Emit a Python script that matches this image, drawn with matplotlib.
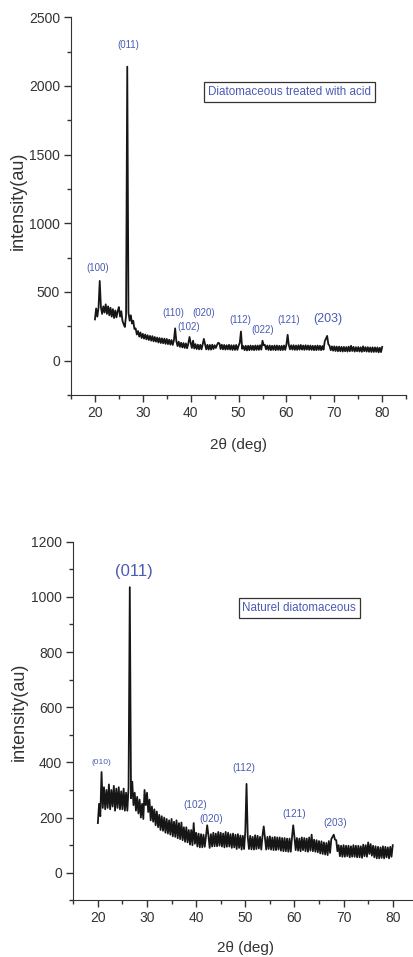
import numpy as np
import matplotlib
matplotlib.use("Agg")
import matplotlib.pyplot as plt
from matplotlib.ticker import MultipleLocator

# 2theta grid, 0.25 deg step from 20 to 80
two_theta = np.arange(20, 80.001, 0.25)

# acid treated diatomaceous (top)
acid = [
    300, 380, 320, 385,  580, 390, 340, 395,  350, 410, 340, 395,  330, 385, 320, 375,
    310, 365, 315, 360,  390, 320, 360, 290,  265, 245, 330, 2140, 350, 290, 330, 270,
    290, 230, 235, 190,  215, 175, 205, 165,  195, 160, 190, 155,  185, 150, 180, 145,
    178, 140, 172, 138,  168, 132, 165, 128,  162, 126, 160, 122,  158, 120, 152, 116,
    150, 114, 148, 235,  142, 106, 138, 100,  130, 96, 128, 92,    125, 90, 122, 172,
    130, 92, 145, 88,    120, 84, 116, 82,    115, 82, 118, 158,   118, 82, 115, 80,
    114, 80, 116, 84,    112, 92, 114, 130,   125, 84, 116, 82,    114, 80, 112, 82,
    115, 80, 112, 78,    112, 78, 114, 78,    108, 130, 212, 86,   106, 76, 108, 74,
    108, 76, 110, 78,    108, 76, 110, 78,    110, 78, 112, 80,    145, 112, 114, 82,
    110, 78, 110, 76,    108, 78, 110, 76,    110, 78, 108, 76,    108, 77, 110, 78,
    118, 188, 112, 82,   112, 80, 112, 78,    110, 78, 112, 80,    114, 80, 110, 78,
    112, 80, 110, 78,    110, 78, 108, 76,    108, 76, 110, 78,    108, 76, 106, 80,
    140, 160, 180, 120,  108, 76, 104, 72,    104, 70, 102, 68,    102, 68, 100, 66,
    100, 68, 99, 66,     102, 68, 108, 70,    100, 66, 98, 68,     99, 66, 97, 64,
    104, 68, 98, 66,     98, 64, 96, 63,      97, 63, 96, 64,      96, 60, 94, 62,
    100,
]

# natural diatomaceous (bottom)
naturel = [
    180, 250, 205, 365,  235, 310, 230, 300,  235, 320, 230, 300,  240, 315, 225, 305,
    235, 310, 230, 295,  230, 305, 225, 290,  225, 310, 1035, 270, 330, 245, 290, 225,
    275, 215, 265, 200,  250, 195, 300, 245,  290, 220, 265, 190,  240, 185, 230, 172,
    222, 165, 210, 155,  205, 152, 200, 145,  195, 142, 190, 138,  195, 132, 185, 130,
    190, 125, 180, 122,  182, 118, 165, 112,  165, 110, 155, 102,  155, 100, 180, 105,
    145, 95, 142, 92,    140, 92, 138, 94,    132, 172, 135, 90,   140, 95, 145, 96,
    142, 96, 148, 98,    145, 95, 142, 92,    148, 94, 145, 95,    140, 90, 142, 92,
    138, 86, 140, 90,    135, 84, 134, 86,    150, 322, 130, 86,   134, 85, 130, 84,
    136, 86, 134, 88,    130, 84, 134, 168,   126, 84, 130, 86,    132, 84, 128, 82,
    130, 82, 128, 84,    128, 80, 126, 78,    126, 78, 124, 76,    124, 76, 128, 172,
    130, 82, 126, 80,    124, 78, 128, 82,    126, 78, 124, 76,    128, 80, 138, 78,
    120, 76, 118, 74,    115, 70, 114, 68,    110, 66, 108, 64,    115, 72, 122, 130,
    138, 120, 118, 78,   100, 60, 98, 58,     100, 58, 98, 60,     98, 56, 96, 58,
    100, 58, 98, 56,     98, 56, 96, 54,      102, 60, 100, 58,    110, 68, 104, 62,
    98, 56, 96, 52,      94, 52, 92, 54,      96, 52, 94, 56,      92, 52, 94, 58,
    100,
]

# peak labels: (text, x, y, fontsize)
acid_labels = [
    ("(011)", 26.95, 2298, 7), ("(100)", 20.56, 674, 7), ("(110)", 36.35, 347, 7),
    ("(102)", 39.56, 245, 7), ("(020)", 42.8, 347, 7), ("(112)", 50.4, 298, 7),
    ("(022)", 55.0, 225, 7), ("(121)", 60.4, 298, 7), ("(203)", 68.7, 303, 9),
]
naturel_labels = [
    ("(011)", 27.38, 1091, 12), ("(010)", 20.8, 400, 6), ("(102)", 39.85, 246, 7.2),
    ("(020)", 43.1, 194, 7.2), ("(112)", 49.6, 379, 7.2), ("(121)", 60.0, 212, 7.2),
    ("(203)", 68.2, 180, 7.2),
]

font = ["Liberation Sans", "DejaVu Sans"]
blue = "#4a5bb5"
grey = "#333333"

fig = plt.figure(figsize=(4.14, 9.57), dpi=100)


def draw(ax, y, labels, box_text, box_xy, ylim, major, minor, xlab_y, ylab_y):
    ax.plot(two_theta, y, color="#161616", lw=1.3)
    ax.set_xlim(15, 85)
    ax.set_ylim(*ylim)
    ax.xaxis.set_major_locator(MultipleLocator(10))
    ax.xaxis.set_minor_locator(MultipleLocator(5))
    ax.yaxis.set_major_locator(MultipleLocator(major))
    ax.yaxis.set_minor_locator(MultipleLocator(minor))
    ax.set_xticks(range(20, 81, 10))
    for s in ("top", "right"):
        ax.spines[s].set_visible(False)
    ax.spines["left"].set_color(grey)
    ax.spines["bottom"].set_color(grey)
    ax.tick_params(direction="out", length=5, width=1, colors=grey, labelsize=10, pad=3)
    ax.tick_params(which="minor", direction="out", length=3, width=1, colors=grey)
    for lab in ax.get_xticklabels() + ax.get_yticklabels():
        lab.set_family(font)
    ax.set_xlabel("2θ (deg)", family=font, fontsize=11, color=grey)
    ax.xaxis.set_label_coords(0.5, xlab_y)
    ax.xaxis.label.set_verticalalignment("center")
    ax.set_ylabel("intensity(au)", family=font, fontsize=13, color=grey)
    ax.yaxis.set_label_coords(-0.158, ylab_y)
    ax.yaxis.label.set_verticalalignment("center")
    for txt, x, yy, fs in labels:
        ax.text(x, yy, txt, ha="center", va="center", color=blue, fontsize=fs, family=font)
    ax.text(box_xy[0], box_xy[1], box_text, ha="center", va="center", color=blue,
            fontsize=8.4, family=font,
            bbox=dict(boxstyle="square,pad=0.33", fc="white", ec="#333333", lw=0.9))


ax1 = fig.add_axes([0.1715, 0.5873, 0.8095, 0.3947])
draw(ax1, acid, acid_labels, "Diatomaceous treated with acid", (60.7, 1957),
     (-250, 2500), 500, 250, -0.132, 0.515)

ax2 = fig.add_axes([0.177, 0.0592, 0.831, 0.3748])
draw(ax2, naturel, naturel_labels, "Naturel diatomaceous", (61.0, 960),
     (-100, 1200), 200, 100, -0.134, 0.526)

fig.savefig("out.png", dpi=100)
